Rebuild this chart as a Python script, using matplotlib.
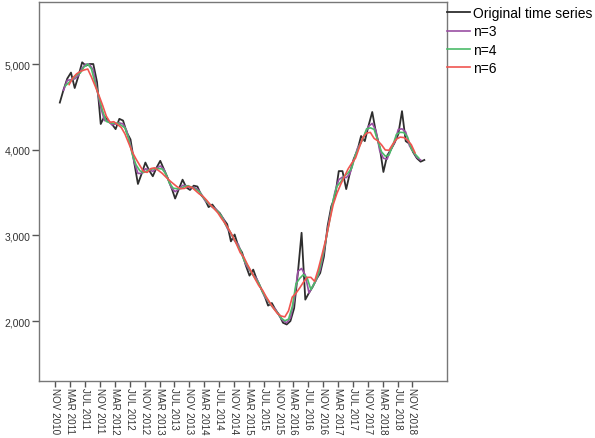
import numpy as np
import pandas as pd
import matplotlib
matplotlib.use("Agg")
import matplotlib.pyplot as plt

plt.rcParams['font.family'] = ['Liberation Sans', 'DejaVu Sans']

# Monthly observations, Dec 2010 .. Feb 2019
values = [
    4550, 4700, 4830, 4900, 4720, 4860, 5020, 4980, 5000, 5000,
    4790, 4300, 4390, 4330, 4300, 4240, 4360, 4340, 4200, 4120,
    3850, 3600, 3720, 3850, 3760, 3690, 3790, 3870, 3770, 3670,
    3560, 3430, 3540, 3650, 3560, 3530, 3580, 3570, 3470, 3420,
    3330, 3360, 3300, 3260, 3190, 3130, 2930, 3010, 2870, 2800,
    2650, 2530, 2600, 2480, 2390, 2300, 2180, 2210, 2130, 2070,
    1980, 1960, 2000, 2150, 2560, 3030, 2250, 2330, 2400, 2490,
    2560, 2750, 3110, 3340, 3450, 3750, 3750, 3540, 3730, 3890,
    3990, 4160, 4100, 4280, 4440, 4200, 4030, 3740, 3930, 4000,
    4080, 4180, 4450, 4100, 4070, 3970, 3900, 3860, 3880,
]

tick_labels = [
    "NOV 2010", "MAR 2011", "JUL 2011", "NOV 2011", "MAR 2012", "JUL 2012",
    "NOV 2012", "MAR 2013", "JUL 2013", "NOV 2013", "MAR 2014", "JUL 2014",
    "NOV 2014", "MAR 2015", "JUL 2015", "NOV 2015", "MAR 2016", "JUL 2016",
    "NOV 2016", "MAR 2017", "JUL 2017", "NOV 2017", "MAR 2018", "JUL 2018",
    "NOV 2018",
]
windows = [3, 4, 6]
series_names = ["Original time series", "n=3", "n=4", "n=6"]
colors = ["#2e2e2e", "#9a4fa3", "#4cbb6a", "#f05550"]

# x measured in months from the start of Nov 2010
x = np.arange(len(values)) + 1.2
tick_pos = np.arange(len(tick_labels)) * 4

W, H = 595, 439
fig = plt.figure(figsize=(W / 100, H / 100), dpi=100)
ax = fig.add_axes([39 / W, 1 - 382 / H, (447 - 39) / W, (382 - 3) / H])

s_x = pd.Series(x)
s_y = pd.Series(values, dtype=float)

handles = []
h, = ax.plot(x, values, color=colors[0], lw=1.3, zorder=2)
handles.append(h)
# centred moving averages: each mean is placed at the mean position of its window
for n, c in zip(windows, colors[1:]):
    mx = s_x.rolling(n).mean()
    my = s_y.rolling(n).mean()
    h, = ax.plot(mx, my, color=c, lw=1.2, zorder=3)
    handles.append(h)

ax.set_xlim(-4.4, 105.3)
ax.set_ylim(1300, 5724)
ax.set_yticks([2000, 3000, 4000, 5000])
ax.set_yticklabels([f"{v:,}" for v in [2000, 3000, 4000, 5000]])
ax.set_xticks(tick_pos)
ax.set_xticklabels(tick_labels, rotation=-90)

ax.tick_params(axis='both', direction='out', colors='#555555', labelcolor='#333333',
               width=1.0)
ax.tick_params(axis='y', length=5, pad=1, labelsize=7.5)
ax.tick_params(axis='x', length=4, pad=0.5, labelsize=7.1)
for sp in ax.spines.values():
    sp.set_color('#777777')
    sp.set_linewidth(1.0)

fig.legend(handles, series_names, loc='upper left',
           bbox_to_anchor=(447 / W, 1 - 7 / H), frameon=False,
           fontsize=10, handlelength=1.65, handletextpad=0.25,
           labelspacing=0.32, borderpad=0, borderaxespad=0)

fig.savefig("out.png", dpi=100)
